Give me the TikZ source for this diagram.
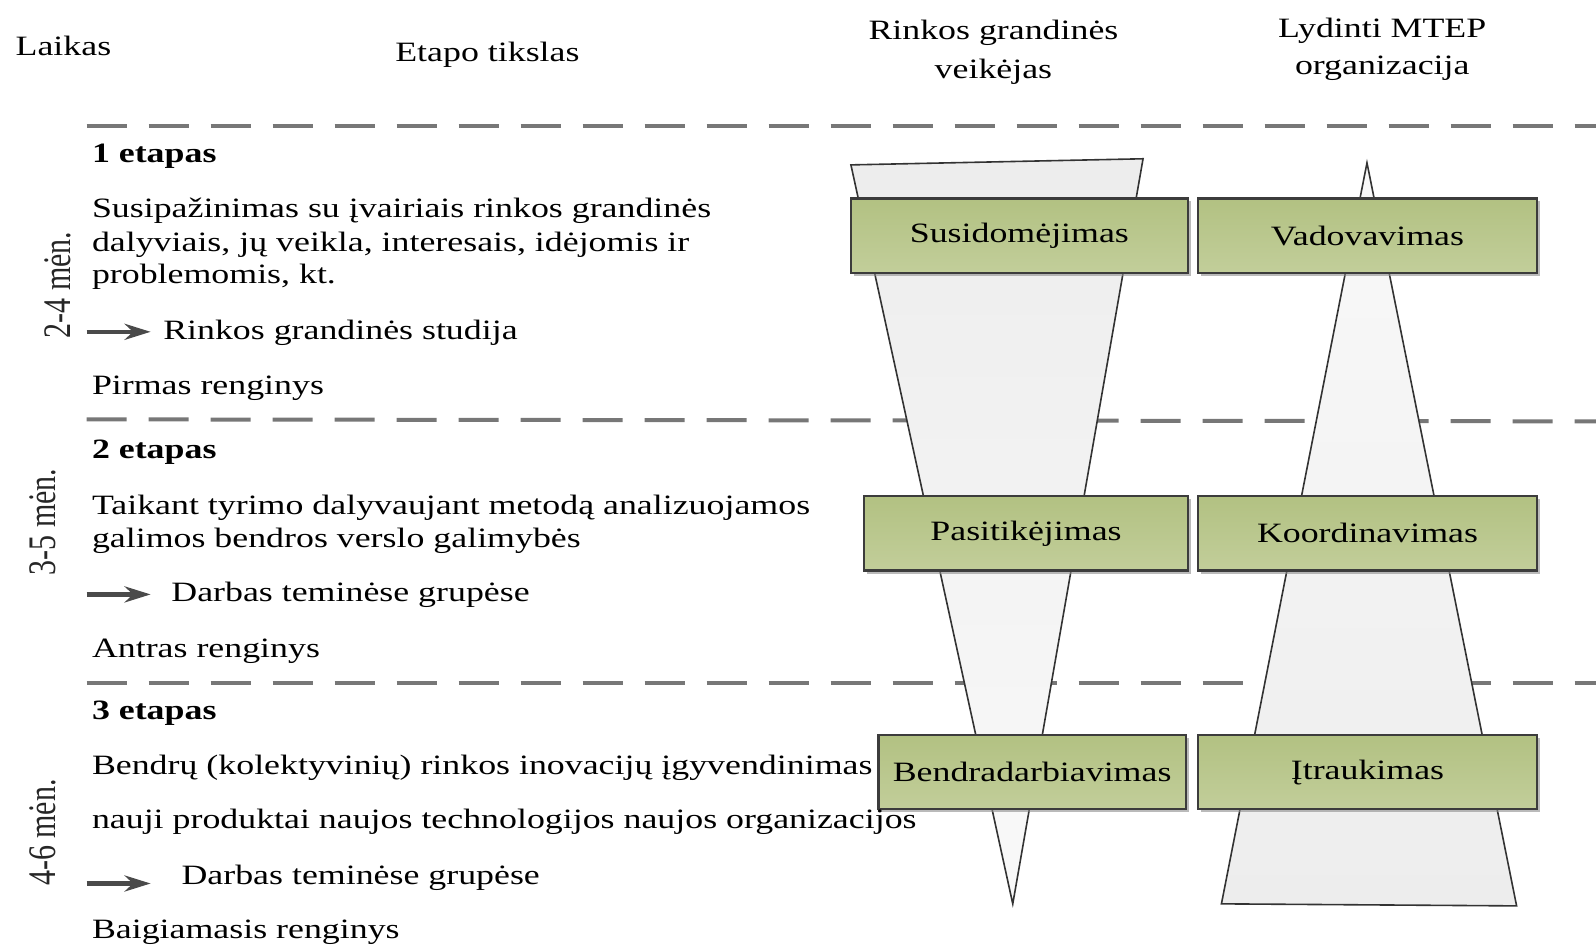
\documentclass[tikz,border=0pt]{standalone}
\usepackage{fontspec}
\setmainfont{Liberation Serif}[FakeStretch=1.28]
\newfontfamily\plainserif{Liberation Serif}
\usetikzlibrary{shadows,arrows.meta}
\definecolor{boxgreenA}{HTML}{B2C182}
\definecolor{boxgreenB}{HTML}{C2CE9A}
\definecolor{boxedge}{HTML}{3C3C3C}
\definecolor{dashgray}{HTML}{777777}
\definecolor{funnelA}{HTML}{EDEDED}
\definecolor{funnelB}{HTML}{F9F9F9}
\definecolor{arrowgray}{HTML}{4A4A4A}
\tikzset{
  txt/.style={anchor=base west, inner sep=0pt, text=black},
  hdr/.style={align=center, inner sep=0pt, text=black},
  sepline/.style={draw=dashgray, line width=2pt, dash pattern=on 20pt off 11pt},
  funnelL/.style={draw=black!80, line width=0.8pt, top color=funnelA, bottom color=funnelB},
  funnelR/.style={draw=black!80, line width=0.8pt, top color=funnelB, bottom color=funnelA},
  stagebox/.style={draw=boxedge, line width=1.1pt, top color=boxgreenA, bottom color=boxgreenB,
    minimum height=37.2pt, inner sep=0pt,
    drop shadow={shadow xshift=1.5pt, shadow yshift=-1.5pt, fill=black!45, opacity=0.6}},
  flowarrow/.style={draw=arrowgray, line width=2.2pt, -{Stealth[length=13pt,width=8pt]}},
  period/.style={rotate=90, inner sep=0pt, text=black!85}
}
\begin{document}
\begin{tikzpicture}[x=0.50893pt, y=-0.50893pt, font=\fontsize{14}{16.8}\selectfont]
\useasboundingbox (0,0) rectangle (1568,930);

% headers
\node[txt] (hLaikas) at (15,55) {Laikas};
\node[txt] (hEtapo) at (388,60) {Etapo tikslas};
\node[hdr] (hRinka1) at (976,32) {Rinkos grandinės};
\node[hdr] (hRinka2) at (976,71) {veikėjas};
\node[hdr] (hMtep1) at (1358,30) {Lydinti MTEP};
\node[hdr] (hMtep2) at (1358,67) {organizacija};

% separators
\coordinate (d1a) at (85,124); \coordinate (d1b) at (1568,124);
\coordinate (d2a) at (85,412); \coordinate (d2b) at (1568,414);
\coordinate (d3a) at (85,671); \coordinate (d3b) at (1568,671);
\draw[sepline] (d1a) -- (d1b);
\draw[sepline] (d2a) -- (d2b);
\draw[sepline] (d3a) -- (d3b);

% funnels
\path[funnelL] (836,162) -- (1123,156) -- (995,888) -- cycle;
\path[funnelR] (1343,160) -- (1490,890) -- (1200,888) -- cycle;

% stage boxes
\node[stagebox, minimum width=168.5pt] (b11) at (1001.5,231.5) {Susidomėjimas};
\node[stagebox, minimum width=169.5pt] (b12) at (1343.5,231.5) {Vadovavimas};
\node[stagebox, minimum width=161.8pt] (b21) at (1008,524) {Pasitikėjimas};
\node[stagebox, minimum width=169.5pt] (b22) at (1343.5,524) {Koordinavimas};
\node[stagebox, minimum width=153.7pt] (b31) at (1014,758.5) {Bendradarbiavimas};
\node[stagebox, minimum width=169.5pt] (b32) at (1343.5,758.5) {Įtraukimas};

% stage 1
\node[txt] (e1) at (90,160) {\bfseries 1 etapas};
\node[txt] (e1a) at (90,214) {Susipažinimas su įvairiais rinkos grandinės};
\node[txt] (e1b) at (90,247) {dalyviais, jų veikla, interesais, idėjomis ir};
\node[txt] (e1c) at (90,279) {problemomis, kt.};
\node[txt] (e1d) at (160,334) {Rinkos grandinės studija};
\node[txt] (e1e) at (90,388) {Pirmas renginys};
\coordinate (a1s) at (85,326); \coordinate (a1e) at (148,326);
\draw[flowarrow] (a1s) -- (a1e);

% stage 2
\node[txt] (e2) at (90,450) {\bfseries 2 etapas};
\node[txt] (e2a) at (90,505) {Taikant tyrimo dalyvaujant metodą analizuojamos};
\node[txt] (e2b) at (90,538) {galimos bendros verslo galimybės};
\node[txt] (e2d) at (168,591) {Darbas teminėse grupėse};
\node[txt] (e2e) at (90,646) {Antras renginys};
\coordinate (a2s) at (85,584); \coordinate (a2e) at (148,584);
\draw[flowarrow] (a2s) -- (a2e);

% stage 3
\node[txt] (e3) at (90,707) {\bfseries 3 etapas};
\node[txt] (e3a) at (90,761) {Bendrų (kolektyvinių) rinkos inovacijų įgyvendinimas};
\node[txt] (e3b) at (90,814) {nauji produktai naujos technologijos naujos organizacijos};
\node[txt] (e3d) at (178,869) {Darbas teminėse grupėse};
\node[txt] (e3e) at (90,922) {Baigiamasis renginys};
\coordinate (a3s) at (85,868); \coordinate (a3e) at (148,868);
\draw[flowarrow] (a3s) -- (a3e);

% periods
\node[period] (p1) at (57,280) {\scalebox{1}[1.3]{\plainserif\fontsize{15}{18}\selectfont 2-4 mėn.}};
\node[period] (p2) at (42,513) {\scalebox{1}[1.3]{\plainserif\fontsize{15}{18}\selectfont 3-5 mėn.}};
\node[period] (p3) at (42,818) {\scalebox{1}[1.3]{\plainserif\fontsize{15}{18}\selectfont 4-6 mėn.}};
\end{tikzpicture}
\end{document}
